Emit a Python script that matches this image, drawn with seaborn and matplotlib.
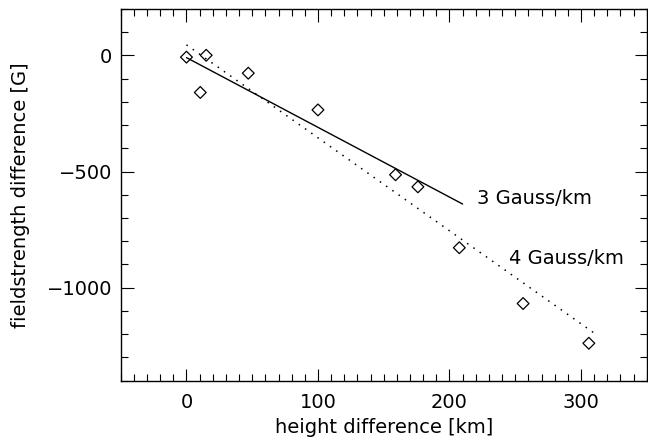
import matplotlib
matplotlib.use("Agg")
import matplotlib.pyplot as plt
from matplotlib.ticker import MultipleLocator
import seaborn as sns
import pandas as pd

# data
height_diff = [0, 10.5, 15, 47, 100, 159, 176, 207.5, 256, 306]
field_diff = [-8, -160, 0, -77, -235, -514, -566, -828, -1068, -1239]

fit3_x = [0, 210]
fit3_y = [-10, -640]
fit4_x = [0, 311]
fit4_y = [45, -1199]

label3 = "3 Gauss/km"
label4 = "4 Gauss/km"
xlabel = "height difference [km]"
ylabel = "fieldstrength difference [G]"
yticks = [0, -500, -1000]
ytick_labels = ["0", "\u2212500", "\u22121000"]

sns.set_style("ticks")
plt.rcParams['font.family'] = ['DejaVu Sans']
plt.rcParams['text.color'] = 'black'
plt.rcParams['axes.labelcolor'] = 'black'
plt.rcParams['xtick.color'] = 'black'
plt.rcParams['ytick.color'] = 'black'

FS = 14

fig = plt.figure(figsize=(6.48, 4.40), dpi=100)
ax = fig.add_axes([0.1863, 0.1348, 0.998 - 0.1863, 0.980 - 0.1348])

pts = pd.DataFrame({"x": height_diff, "y": field_diff})
l3 = pd.DataFrame({"x": fit3_x, "y": fit3_y})
l4 = pd.DataFrame({"x": fit4_x, "y": fit4_y})

sns.lineplot(data=l3, x="x", y="y", ax=ax, color="black", linewidth=1.0)
sns.lineplot(data=l4, x="x", y="y", ax=ax, color="black", linewidth=1.1,
             linestyle=(0, (1, 4)))
sns.scatterplot(data=pts, x="x", y="y", ax=ax, marker="D", s=36,
                facecolor="none", edgecolor="black", linewidth=0.9, zorder=3)

ax.text(221, -617, label3, fontsize=FS, va="center", ha="left", color="black")
ax.text(245, -875, label4, fontsize=FS, va="center", ha="left", color="black")

ax.set_xlim(-50, 350)
ax.set_ylim(-1400, 200)
ax.xaxis.set_major_locator(MultipleLocator(100))
ax.xaxis.set_minor_locator(MultipleLocator(10))
ax.yaxis.set_minor_locator(MultipleLocator(100))
ax.set_yticks(yticks)
ax.set_yticklabels(ytick_labels)

ax.tick_params(which="both", direction="in", top=True, right=True,
               colors="black", width=0.8)
ax.tick_params(which="major", length=9)
ax.tick_params(which="minor", length=5)
ax.tick_params(axis="x", which="major", pad=9, labelsize=FS)
ax.tick_params(axis="y", which="major", pad=6, labelsize=FS)
for s in ax.spines.values():
    s.set_linewidth(1.0)
    s.set_color("black")
    s.set_visible(True)

ax.set_xlabel(xlabel, fontsize=FS, labelpad=4, color="black")
ax.set_ylabel(ylabel, fontsize=FS, labelpad=12, color="black")

fig.savefig("out.png", dpi=100)
